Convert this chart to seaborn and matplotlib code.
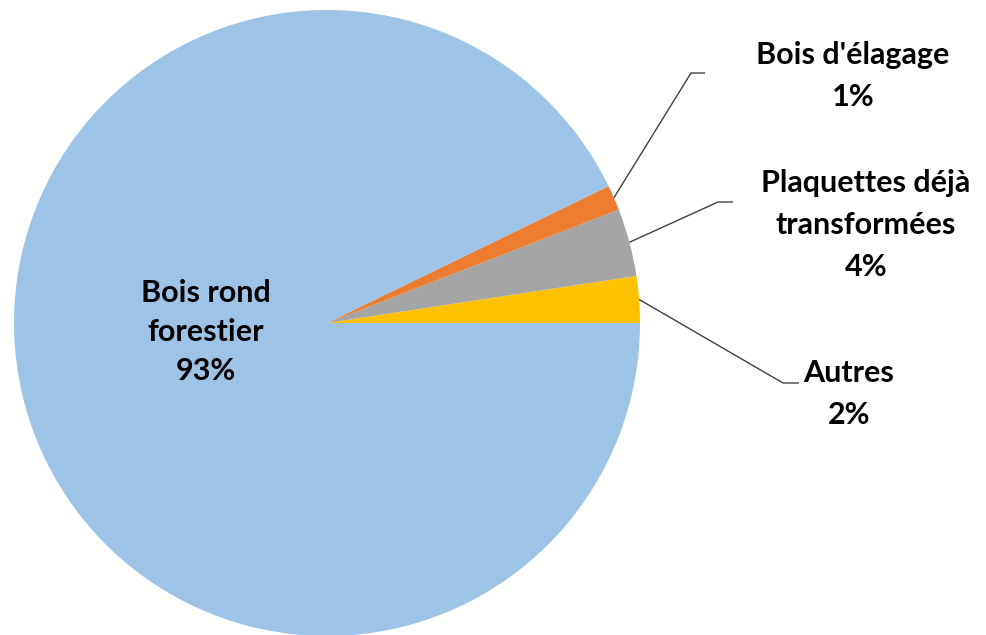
import numpy as np
import seaborn as sns
import matplotlib.pyplot as plt

# Data for the pie
labels = ["Autres", "Plaquettes déjà\ntransformées", "Bois d'élagage", "Bois rond\nforestier"]
values = [2.4, 3.5, 1.3, 92.8]
colors = ["#FFC000", "#A5A5A5", "#ED7D31", "#9DC3E6"]

sns.set_style("white")
plt.rcParams['font.family'] = ['Lato', 'DejaVu Sans']

W, H = 986, 635
fig = plt.figure(figsize=(W / 100, H / 100), dpi=100)
ax = fig.add_axes([0, 0, 1, 1])

cx, cy, r = 327, H - 323, 313
wedges, _ = ax.pie(values, colors=colors, startangle=0, counterclock=True,
                   center=(cx, cy), radius=r, frame=True,
                   wedgeprops=dict(linewidth=0))
ax.set_xlim(0, W)
ax.set_ylim(0, H)
ax.set_aspect('equal')
ax.axis('off')

pct = [f"{round(v)}%" for v in values]

# label layout: (elbow x, elbow y, end x, text x, text y) in pixels from top-left
layout = {
    0: (783, 383, 799, 849, 394),
    1: (718, 202, 733, 866, 225),
    2: (691, 73, 705, 853, 76),
}

for i, w in enumerate(wedges):
    txt = f"{labels[i]}\n{pct[i]}"
    spacing = 1.6
    if i in layout:
        ex, ey, endx, tx, ty = layout[i]
        ang = np.deg2rad((w.theta1 + w.theta2) / 2)
        px, py = cx + r * np.cos(ang), cy + r * np.sin(ang)
        ax.plot([px, ex, endx], [py, H - ey, H - ey], color="#404040", lw=1.0,
                solid_capstyle='butt')
    else:
        tx, ty = 206, 332
        spacing = 1.5
    ax.text(tx, H - ty, txt, ha='center', va='center', fontsize=22,
            fontweight='bold', color='#000000', linespacing=spacing)

fig.savefig("out.png", dpi=100)
